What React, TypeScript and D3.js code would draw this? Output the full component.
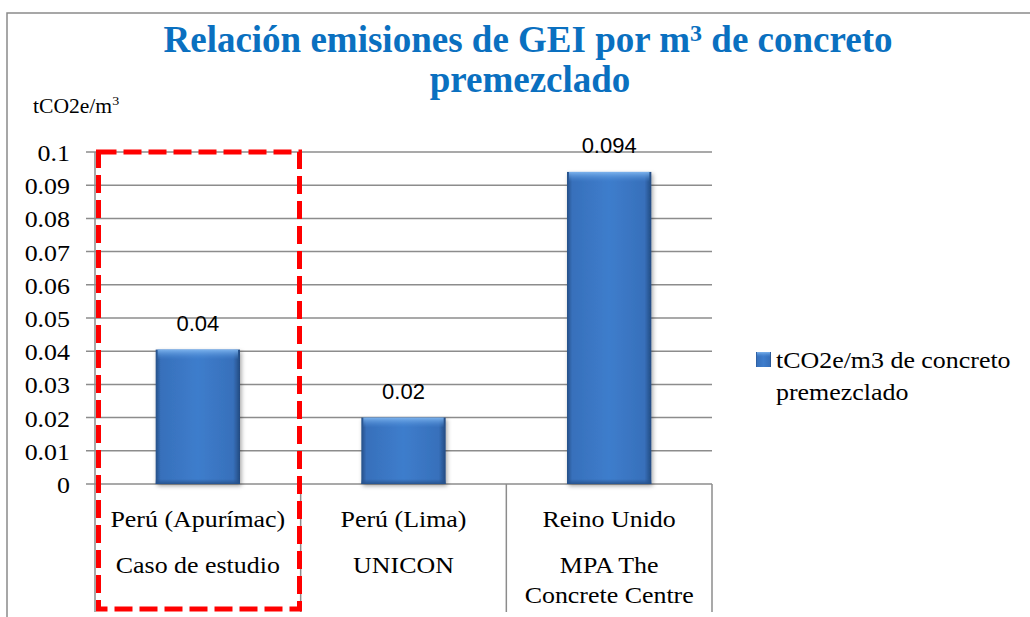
import React from "react";
import * as d3 from "d3";

const categories = ["Perú (Apurímac)", "Perú (Lima)", "Reino Unido"];
const categoryLabels: string[][][] = [
  [["Perú (Apurímac)"], ["Caso de estudio"]],
  [["Perú (Lima)"], ["UNICON"]],
  [["Reino Unido"], ["MPA The", "Concrete Centre"]],
];
const values = [0.0405, 0.02, 0.094];
const valueLabels = ["0.04", "0.02", "0.094"];
const yTicks = [0, 0.01, 0.02, 0.03, 0.04, 0.05, 0.06, 0.07, 0.08, 0.09, 0.1];
const yTickLabels = ["0", "0.01", "0.02", "0.03", "0.04", "0.05", "0.06", "0.07", "0.08", "0.09", "0.1"];
const titleLine1 = ["Relación emisiones de GEI por m", "3", " de concreto"];
const titleLine2 = "premezclado";
const yUnit = ["tCO2e/m", "3"];
const legendLines = ["tCO2e/m3 de concreto", "premezclado"];

const W = 1030;
const H = 617;
const plot = { left: 95, right: 712, top: 152, bottom: 484 };
const serif = "'Liberation Serif', 'Times New Roman', serif";
const sans = "'Liberation Sans', Arial, sans-serif";
const SX = 1.08;

function ST(props: { x: number; y: number; anchor?: string; size: number; children: React.ReactNode; fill?: string }) {
  return (
    <g transform={`translate(${props.x},${props.y}) scale(${SX},1)`}>
      <text x={0} y={0} textAnchor={props.anchor || "start"} fontFamily={serif} fontSize={props.size} fill={props.fill || "#000"}>
        {props.children}
      </text>
    </g>
  );
}

export default function App() {
  const x = d3
    .scaleBand<string>()
    .domain(categories)
    .range([plot.left, plot.right])
    .paddingInner(0.59)
    .paddingOuter(0.295);
  const y = d3.scaleLinear().domain([0, 0.1]).range([plot.bottom, plot.top]);
  const step = x.step();
  const catEdges = d3.range(categories.length + 1).map((i) => plot.left + i * step);

  return (
    <svg width={W} height={H} style={{ position: "absolute", left: 0, top: 0, background: "#fff" }}>
      <defs>
        <linearGradient id="barH" x1="0" x2="1" y1="0" y2="0">
          <stop offset="0%" stopColor="#264f87" />
          <stop offset="6%" stopColor="#3770bb" />
          <stop offset="50%" stopColor="#3e7dcc" />
          <stop offset="92%" stopColor="#3770bb" />
          <stop offset="100%" stopColor="#234a80" />
        </linearGradient>
        <linearGradient id="barTop" x1="0" x2="0" y1="0" y2="1">
          <stop offset="0%" stopColor="#80b6ef" stopOpacity={0.95} />
          <stop offset="100%" stopColor="#4a8ad6" stopOpacity={0} />
        </linearGradient>
        <linearGradient id="barBottom" x1="0" x2="0" y1="0" y2="1">
          <stop offset="0%" stopColor="#2a558f" stopOpacity={0} />
          <stop offset="100%" stopColor="#24508a" stopOpacity={0.9} />
        </linearGradient>
        <filter id="shadow" x="-20%" y="-20%" width="140%" height="140%">
          <feDropShadow dx="1.5" dy="2" stdDeviation="2" floodColor="#000" floodOpacity="0.35" />
        </filter>
      </defs>

      {/* chart border */}
      <rect x={7} y={13} width={1200} height={800} fill="none" stroke="#8a8a8a" strokeWidth={1.5} />

      {/* title */}
      <text x={528} y={52} textAnchor="middle" fontFamily={serif} fontWeight="bold" fontSize={37} fill="#0a70c0">
        {titleLine1[0]}
        <tspan fontSize={24} dy={-11}>{titleLine1[1]}</tspan>
        <tspan dy={11}>{titleLine1[2]}</tspan>
      </text>
      <text x={530} y={92} textAnchor="middle" fontFamily={serif} fontWeight="bold" fontSize={37} fill="#0a70c0">
        {titleLine2}
      </text>

      {/* y unit */}
      <ST x={33} y={113} size={20}>
        {yUnit[0]}
        <tspan fontSize={13} dy={-8}>{yUnit[1]}</tspan>
      </ST>

      {/* gridlines */}
      {yTicks.map((t) => (
        <line key={"g" + t} x1={plot.left - 9} x2={plot.right} y1={y(t)} y2={y(t)} stroke="#8c8c8c" strokeWidth={1.5} />
      ))}
      {/* y axis */}
      <line x1={plot.left} x2={plot.left} y1={plot.top} y2={612} stroke="#8c8c8c" strokeWidth={1.5} />
      {/* category separators */}
      {catEdges.slice(1).map((e, i) => (
        <line key={"c" + i} x1={e} x2={e} y1={plot.bottom} y2={612} stroke="#8c8c8c" strokeWidth={1.5} />
      ))}

      {/* tick labels */}
      {yTicks.map((t, i) => (
        <ST key={"t" + t} x={70} y={y(t) + 9} size={24} anchor="end">
          {yTickLabels[i]}
        </ST>
      ))}

      {/* bars */}
      {categories.map((c, i) => {
        const bx = x(c)!;
        const bw = x.bandwidth();
        const by = y(values[i]);
        const bh = y(0) - by;
        return (
          <g key={"b" + c}>
            <rect x={bx} y={by} width={bw} height={bh} fill="url(#barH)" filter="url(#shadow)" />
            <rect x={bx + 2} y={by} width={bw - 4} height={Math.min(10, bh / 2)} fill="url(#barTop)" />
            <rect x={bx} y={y(0) - Math.min(5, bh / 4)} width={bw} height={Math.min(5, bh / 4)} fill="url(#barBottom)" />
            <text x={bx + bw / 2} y={by - 19} textAnchor="middle" fontFamily={sans} fontSize={22} fill="#000">
              {valueLabels[i]}
            </text>
          </g>
        );
      })}

      {/* category labels */}
      {categories.map((c, i) => {
        const cx = x(c)! + x.bandwidth() / 2;
        const paras = categoryLabels[i];
        const out: React.ReactNode[] = [];
        let yy = 527;
        paras.forEach((p, pi) => {
          p.forEach((line, li) => {
            out.push(
              <ST key={`${i}-${pi}-${li}`} x={cx} y={yy} size={24} anchor="middle">
                {line}
              </ST>
            );
            yy += li < p.length - 1 ? 30 : 0;
          });
          yy += 46;
        });
        return <g key={"l" + c}>{out}</g>;
      })}

      {/* highlight box */}
      <rect x={98.5} y={152} width={201} height={457} fill="none" stroke="#ff0000" strokeWidth={5} strokeDasharray="18 7" />

      {/* legend */}
      <rect x={756} y={352} width={15} height={15} fill="url(#barH)" />
      <rect x={757} y={352} width={13} height={5} fill="url(#barTop)" />
      {legendLines.map((l, i) => (
        <ST key={"lg" + i} x={776} y={368 + i * 32} size={24}>
          {l}
        </ST>
      ))}
    </svg>
  );
}
